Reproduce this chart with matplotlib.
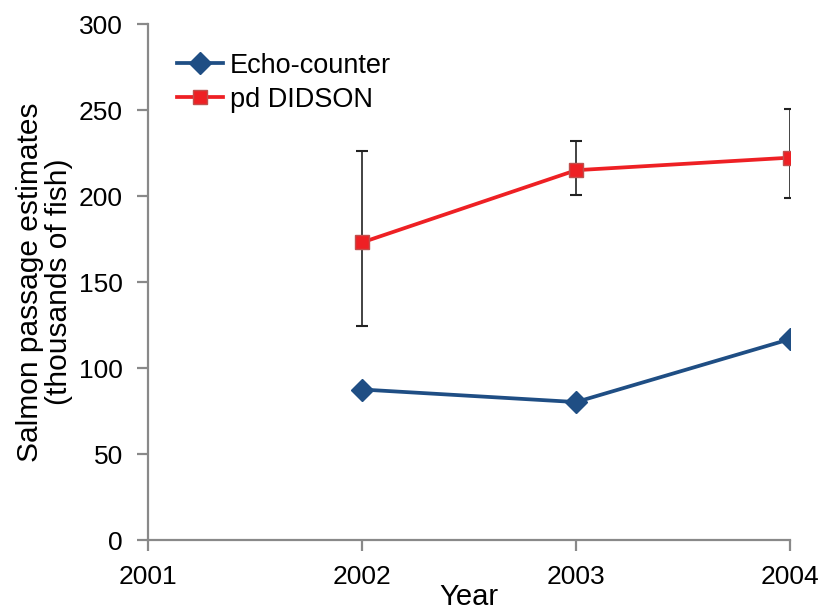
import numpy as np
import matplotlib.pyplot as plt

plt.rcParams['font.family'] = ['Liberation Sans', 'DejaVu Sans']

years = [2002, 2003, 2004]
echo = [87.5, 80.2, 116.8]
didson = [173.0, 215.0, 222.3]
didson_lo = [124.5, 200.3, 198.6]
didson_hi = [226.0, 231.8, 250.5]

blue = '#1f4e84'
red = '#ee2024'

fig = plt.figure(figsize=(8.25, 6.11), dpi=100)
ax = fig.add_axes([0.1794, 0.1162, 0.9576 - 0.1794, 0.9607 - 0.1162])

err = [np.array(didson) - np.array(didson_lo), np.array(didson_hi) - np.array(didson)]
ax.errorbar(years, didson, yerr=err, fmt='none', ecolor='#222222', elinewidth=1.2,
            capsize=4, capthick=1.5, zorder=2)
ax.plot(years, echo, color=blue, lw=2.7, marker='D', ms=11, mfc=blue, mec=blue,
        label='Echo-counter', zorder=3)
ax.plot(years, didson, color=red, lw=2.7, marker='s', ms=9.5, mfc=red, mec='#c0504d',
        label='pd DIDSON', zorder=3)

ax.set_xlim(2001, 2004)
ax.set_ylim(0, 300)
ax.set_xticks([2001, 2002, 2003, 2004])
ax.set_yticks(range(0, 301, 50))

for s in ['top', 'right']:
    ax.spines[s].set_visible(False)
for s in ['left', 'bottom']:
    ax.spines[s].set_color('#898989')
    ax.spines[s].set_linewidth(1.6)
ax.tick_params(axis='both', direction='out', length=8, width=1.6, color='#898989',
               labelsize=19)
ax.tick_params(axis='y', pad=10)
ax.tick_params(axis='x', pad=10)

ax.set_xlabel('Year', fontsize=21, labelpad=-4)
ax.set_ylabel('Salmon passage estimates\n(thousands of fish)', fontsize=21.5,
              linespacing=1.05, labelpad=4)

ax.legend(loc='upper left', bbox_to_anchor=(0.02, 0.976), frameon=False, fontsize=19.5,
          handlelength=1.7, handletextpad=0.25, labelspacing=0.3, borderaxespad=0.2)

fig.savefig('out.png', dpi=100)
